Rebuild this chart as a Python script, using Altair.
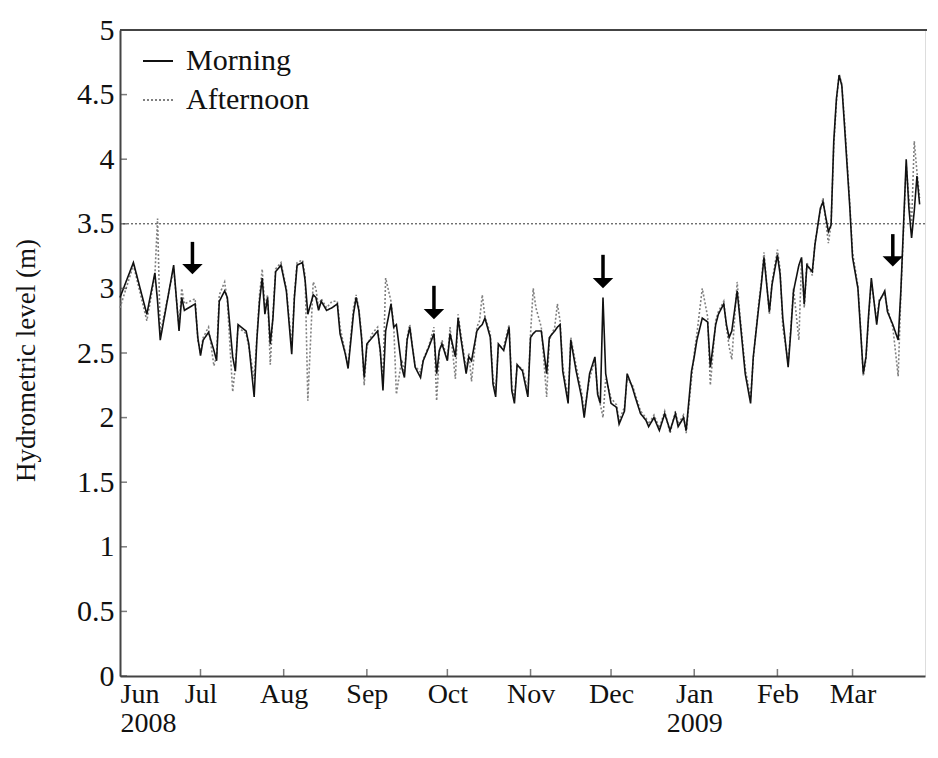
import altair as alt
import pandas as pd

# ---- data (day offsets from 2008-06-01) ----
days = [0, 5, 10, 13, 14, 15, 20, 22, 23, 24, 28, 29, 30, 31, 33, 35, 36, 37, 39, 40,
        42, 43, 44, 47, 48, 50, 51, 52, 53, 54, 55, 56, 57, 58, 60, 62, 64, 65, 66, 68,
        69, 70, 72, 73, 74, 75, 77, 79, 81, 82, 84, 85, 87, 88, 89, 90, 91, 92, 94, 96,
        97, 98, 99, 101, 102, 103, 105, 106, 107, 108, 109, 110, 112, 113, 115, 117, 118, 119, 120, 122,
        123, 125, 126, 127, 129, 130, 131, 133, 134, 135, 136, 138, 139, 140, 141, 143, 145, 146, 147, 148,
        150, 151, 152, 153, 154, 155, 157, 159, 160, 162, 163, 164, 165, 167, 168, 170, 172, 173, 175, 177,
        178, 179, 180, 181, 183, 185, 186, 188, 189, 191, 192, 194, 196, 197, 199, 201, 203, 205, 207, 208,
        210, 211, 213, 214, 215, 217, 219, 220, 222, 223, 225, 226, 227, 228, 230, 231, 233, 235, 236, 238,
        239, 240, 242, 243, 245, 246, 247, 249, 250, 251, 253, 254, 255, 256, 258, 259, 261, 262, 264, 265,
        266, 267, 268, 269, 270, 272, 273, 275, 276, 277, 278, 279, 280, 282, 283, 285, 286, 288, 290, 291,
        292, 293, 294, 295, 296, 297, 298]

morning = [2.93, 3.20, 2.80, 3.12, 2.90, 2.60, 3.18, 2.67, 2.93, 2.83, 2.88, 2.62, 2.48, 2.60, 2.66, 2.52, 2.44, 2.90, 2.98, 2.93,
           2.47, 2.36, 2.72, 2.67, 2.57, 2.16, 2.60, 2.90, 3.08, 2.80, 2.93, 2.57, 2.77, 3.13, 3.18, 2.98, 2.49, 2.93, 3.18, 3.20,
           3.06, 2.80, 2.95, 2.93, 2.83, 2.90, 2.83, 2.85, 2.88, 2.65, 2.49, 2.38, 2.80, 2.93, 2.83, 2.62, 2.31, 2.57, 2.62, 2.67,
           2.52, 2.21, 2.67, 2.88, 2.70, 2.72, 2.39, 2.31, 2.60, 2.70, 2.54, 2.39, 2.31, 2.44, 2.54, 2.65, 2.34, 2.52, 2.57, 2.44,
           2.65, 2.47, 2.77, 2.62, 2.34, 2.47, 2.44, 2.67, 2.70, 2.72, 2.77, 2.62, 2.26, 2.16, 2.57, 2.52, 2.70, 2.21, 2.11, 2.41,
           2.36, 2.26, 2.16, 2.62, 2.65, 2.67, 2.67, 2.34, 2.62, 2.67, 2.70, 2.72, 2.36, 2.11, 2.60, 2.36, 2.16, 2.00, 2.34, 2.47,
           2.18, 2.11, 2.93, 2.34, 2.11, 2.08, 1.95, 2.05, 2.34, 2.23, 2.16, 2.03, 1.98, 1.93, 2.00, 1.90, 2.03, 1.90, 2.03, 1.93,
           2.00, 1.90, 2.36, 2.47, 2.60, 2.77, 2.74, 2.39, 2.72, 2.80, 2.88, 2.72, 2.62, 2.67, 2.98, 2.77, 2.34, 2.11, 2.47, 2.85,
           3.03, 3.24, 2.82, 3.03, 3.26, 3.11, 2.77, 2.39, 2.67, 2.98, 3.18, 3.24, 2.88, 3.18, 3.13, 3.34, 3.62, 3.67, 3.44, 3.49,
           4.14, 4.47, 4.65, 4.57, 4.26, 3.62, 3.24, 3.00, 2.67, 2.34, 2.47, 2.80, 3.08, 2.72, 2.90, 2.98, 2.82, 2.72, 2.60, 2.98,
           3.49, 4.00, 3.62, 3.39, 3.60, 3.87, 3.65]

afternoon = [2.85, 3.18, 2.75, 3.10, 3.54, 2.65, 3.15, 2.70, 3.00, 2.88, 2.92, 2.60, 2.50, 2.62, 2.70, 2.40, 2.48, 2.95, 3.05, 2.90,
             2.20, 2.40, 2.70, 2.65, 2.55, 2.30, 2.62, 2.95, 3.15, 2.85, 2.95, 2.41, 2.80, 3.15, 3.20, 3.00, 2.55, 2.95, 3.20, 3.22,
             3.10, 2.13, 3.05, 3.00, 2.85, 2.92, 2.85, 2.90, 2.90, 2.70, 2.50, 2.40, 2.85, 2.95, 2.85, 2.65, 2.25, 2.55, 2.65, 2.70,
             2.50, 2.30, 3.08, 2.90, 2.72, 2.18, 2.45, 2.35, 2.62, 2.72, 2.55, 2.40, 2.35, 2.45, 2.55, 2.70, 2.13, 2.50, 2.60, 2.45,
             2.70, 2.30, 2.80, 2.65, 2.38, 2.50, 2.28, 2.70, 2.75, 2.95, 2.78, 2.65, 2.30, 2.20, 2.55, 2.55, 2.72, 2.25, 2.15, 2.40,
             2.38, 2.30, 2.18, 2.65, 3.00, 2.85, 2.70, 2.16, 2.60, 2.70, 2.88, 2.75, 2.40, 2.15, 2.62, 2.40, 2.20, 2.05, 2.30, 2.45,
             2.20, 2.10, 2.00, 2.30, 2.15, 2.10, 1.98, 2.08, 2.30, 2.25, 2.18, 2.05, 2.00, 1.95, 2.02, 1.92, 2.05, 1.88, 2.05, 1.95,
             2.02, 1.88, 2.30, 2.50, 2.65, 3.00, 2.78, 2.25, 2.75, 2.82, 2.90, 2.70, 2.55, 2.45, 3.05, 2.80, 2.38, 2.15, 2.45, 2.88,
             3.05, 3.28, 2.80, 3.05, 3.30, 3.15, 2.70, 2.42, 2.70, 3.00, 2.60, 3.22, 2.85, 3.20, 3.10, 3.35, 3.60, 3.70, 3.35, 3.50,
             4.10, 4.45, 4.66, 4.58, 4.30, 3.65, 3.28, 3.02, 2.70, 2.32, 2.45, 2.78, 3.05, 2.75, 2.92, 2.95, 2.85, 2.70, 2.32, 2.95,
             3.45, 3.95, 3.70, 3.50, 4.14, 3.90, 3.70]

series_names = ["Morning", "Afternoon"]
month_ticks = [(2008, 6), (2008, 7), (2008, 8), (2008, 9), (2008, 10), (2008, 11), (2008, 12),
               (2009, 1), (2009, 2), (2009, 3)]
y_ticks = [0, 0.5, 1, 1.5, 2, 2.5, 3, 3.5, 4, 4.5, 5]
threshold = [3.5]

# arrows: day offset, top of the shaft, centre of the head
arrow_days = [27, 117, 180, 288]
arrow_top = [3.36, 3.02, 3.26, 3.42]
arrow_head = [3.15, 2.80, 3.04, 3.21]

# ---- tables ----
start = pd.Timestamp("2008-06-01")
dates = [start + pd.Timedelta(days=d) for d in days]
df = pd.DataFrame({
    "date": dates + dates,
    "level": afternoon + morning,
    "series": ["Afternoon"] * len(days) + ["Morning"] * len(days),
})
arrows = pd.DataFrame({
    "date": [start + pd.Timedelta(days=d) for d in arrow_days],
    "top": arrow_top,
    "head": arrow_head,
})
thr = pd.DataFrame({"y": threshold})
xt = pd.DataFrame({"date": [pd.Timestamp(year=y, month=m, day=1) for (y, m) in month_ticks[1:]]})
yt = pd.DataFrame({"y": y_ticks})

W, H = 805, 646
FONT = "Liberation Serif"
FS = 30

x_scale = alt.Scale(domain=[alt.DateTime(year=2008, month=6, date=1),
                            alt.DateTime(year=2009, month=3, date=28)])
y_scale = alt.Scale(domain=[0, 5], nice=False)

x_axis = alt.Axis(
    values=[alt.DateTime(year=y, month=m, date=1) for (y, m) in month_ticks],
    labelExpr="(month(datum.value) == 5 || month(datum.value) == 0) ? "
              "[timeFormat(datum.value, '%b'), timeFormat(datum.value, '%Y')] : "
              "timeFormat(datum.value, '%b')",
    labelFlush=True, labelOverlap=False, tickSize=0, labelPadding=4,
    labelLineHeight=29, labelBaseline="top",
    labelFont=FONT, labelFontSize=28, labelColor="#111",
    domainColor="#444", domainWidth=2, grid=False, title=None,
)
y_axis = alt.Axis(
    values=y_ticks, format="~g", tickSize=0, labelPadding=6,
    labelFont=FONT, labelFontSize=FS, labelColor="#111",
    domainColor="#444", domainWidth=2, grid=False,
    title="Hydrometric level (m)", titleFont=FONT, titleFontSize=27,
    titleFontWeight="normal", titleColor="#111",
    titleAngle=270, titleX=-94, titleY=330, titleAlign="center", titleBaseline="middle",
)

legend_kw = dict(title=None, orient="none", legendX=22, legendY=15,
                 symbolType="stroke", symbolSize=900, symbolStrokeWidth=1.8,
                 labelFont=FONT, labelFontSize=FS, labelColor="#111",
                 labelOffset=12, rowPadding=8, padding=0)

lines = alt.Chart(df).mark_line(strokeWidth=1.6).encode(
    x=alt.X("date:T", scale=x_scale, axis=x_axis),
    y=alt.Y("level:Q", scale=y_scale, axis=y_axis),
    color=alt.Color("series:N", scale=alt.Scale(domain=series_names, range=["#111111", "#808080"]),
                    legend=alt.Legend(**legend_kw)),
    strokeDash=alt.StrokeDash("series:N",
                              scale=alt.Scale(domain=series_names, range=[[1, 0], [2, 2]]),
                              legend=alt.Legend(**legend_kw)),
    detail="series:N",
)

thr_rule = alt.Chart(thr).mark_rule(color="#333", strokeWidth=1, strokeDash=[2, 2]).encode(
    y=alt.Y("y:Q", scale=y_scale)
)

shafts = alt.Chart(arrows).mark_rule(color="black", strokeWidth=3.5).encode(
    x=alt.X("date:T", scale=x_scale),
    y=alt.Y("top:Q", scale=y_scale),
    y2="head:Q",
)
heads = alt.Chart(arrows).mark_point(
    shape="M-1,-0.5L1,-0.5L0,0.5Z", filled=True, color="black", opacity=1, size=420, strokeWidth=0
).encode(
    x=alt.X("date:T", scale=x_scale),
    y=alt.Y("head:Q", scale=y_scale),
)

x_ticks = alt.Chart(xt).mark_tick(color="#444", thickness=1.5, size=7).encode(
    x=alt.X("date:T", scale=x_scale),
    y=alt.value(H - 3.5),
)
y_ticks_mark = alt.Chart(yt).mark_tick(color="#444", thickness=1.5, size=7).encode(
    y=alt.Y("y:Q", scale=y_scale),
    x=alt.value(3.5),
)
top_frame = alt.Chart(thr).mark_rule(color="#444", strokeWidth=2).encode(
    x=alt.value(0), x2=alt.value(W + 2), y=alt.value(0)
)

chart = alt.layer(thr_rule, lines, shafts, heads, x_ticks, y_ticks_mark, top_frame).properties(
    width=W, height=H,
    autosize=alt.AutoSizeParams(type="none"),
    padding={"left": 112, "top": 22, "right": 2, "bottom": 62},
).configure_view(stroke=None).configure(background="white")

chart.save("out.html", embed_options={"renderer": "svg", "actions": False})
